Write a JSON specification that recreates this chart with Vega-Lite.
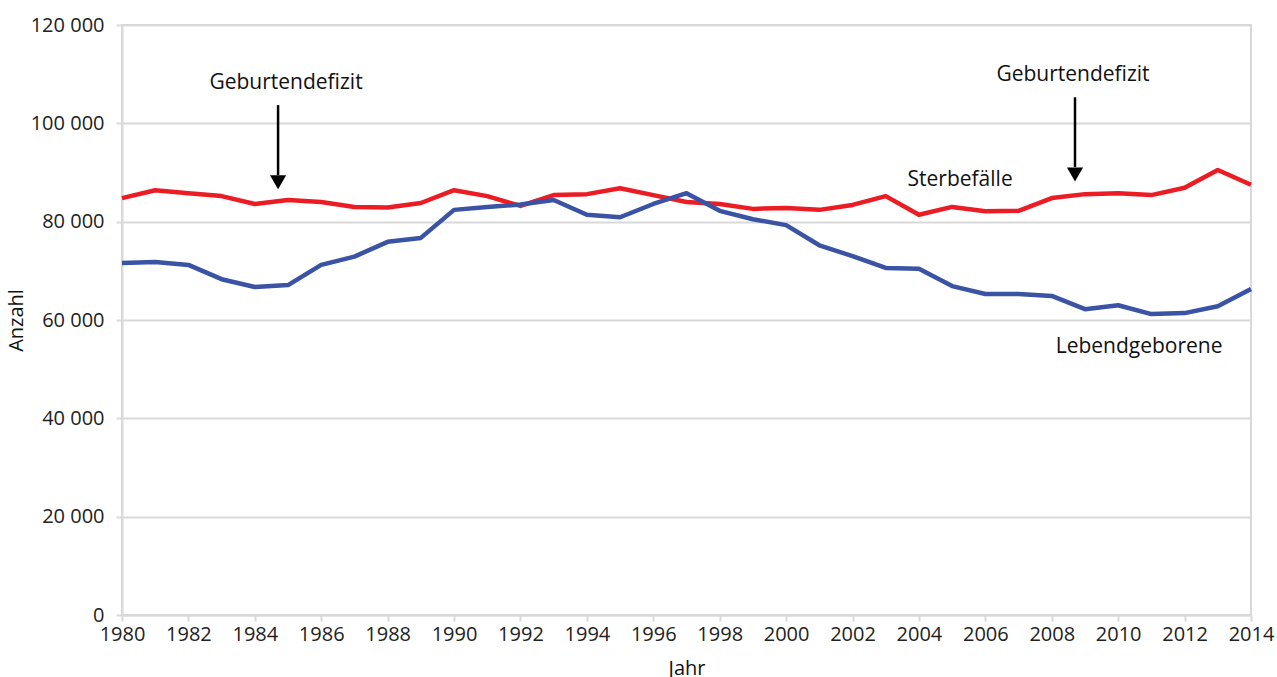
{
  "$schema": "https://vega.github.io/schema/vega-lite/v6.json",
  "width": 1129,
  "height": 590,
  "autosize": "none",
  "padding": {"left": 122, "top": 25, "right": 26, "bottom": 62},
  "background": "white",
  "config": {
    "font": "Open Sans",
    "view": {"stroke": "#d9d9d9", "strokeWidth": 2},
    "axis": {
      "labelFont": "Open Sans", "labelFontSize": 20, "labelColor": "#222222",
      "titleFont": "Open Sans", "titleFontSize": 20, "titleFontWeight": "normal", "titleColor": "#111111",
      "domainColor": "#d9d9d9", "domainWidth": 2, "tickColor": "#d9d9d9", "tickWidth": 2,
      "gridColor": "#d9d9d9", "gridWidth": 2
    }
  },
  "datasets": {
    "reihen": [
      {"Jahr": 1980, "Reihe": "Sterbefälle", "Anzahl": 84800},
      {"Jahr": 1981, "Reihe": "Sterbefälle", "Anzahl": 86400},
      {"Jahr": 1982, "Reihe": "Sterbefälle", "Anzahl": 85800},
      {"Jahr": 1983, "Reihe": "Sterbefälle", "Anzahl": 85200},
      {"Jahr": 1984, "Reihe": "Sterbefälle", "Anzahl": 83600},
      {"Jahr": 1985, "Reihe": "Sterbefälle", "Anzahl": 84400},
      {"Jahr": 1986, "Reihe": "Sterbefälle", "Anzahl": 84000},
      {"Jahr": 1987, "Reihe": "Sterbefälle", "Anzahl": 83000},
      {"Jahr": 1988, "Reihe": "Sterbefälle", "Anzahl": 82900},
      {"Jahr": 1989, "Reihe": "Sterbefälle", "Anzahl": 83800},
      {"Jahr": 1990, "Reihe": "Sterbefälle", "Anzahl": 86400},
      {"Jahr": 1991, "Reihe": "Sterbefälle", "Anzahl": 85200},
      {"Jahr": 1992, "Reihe": "Sterbefälle", "Anzahl": 83200},
      {"Jahr": 1993, "Reihe": "Sterbefälle", "Anzahl": 85400},
      {"Jahr": 1994, "Reihe": "Sterbefälle", "Anzahl": 85600},
      {"Jahr": 1995, "Reihe": "Sterbefälle", "Anzahl": 86800},
      {"Jahr": 1996, "Reihe": "Sterbefälle", "Anzahl": 85400},
      {"Jahr": 1997, "Reihe": "Sterbefälle", "Anzahl": 84000},
      {"Jahr": 1998, "Reihe": "Sterbefälle", "Anzahl": 83600},
      {"Jahr": 1999, "Reihe": "Sterbefälle", "Anzahl": 82600},
      {"Jahr": 2000, "Reihe": "Sterbefälle", "Anzahl": 82800},
      {"Jahr": 2001, "Reihe": "Sterbefälle", "Anzahl": 82400},
      {"Jahr": 2002, "Reihe": "Sterbefälle", "Anzahl": 83400},
      {"Jahr": 2003, "Reihe": "Sterbefälle", "Anzahl": 85200},
      {"Jahr": 2004, "Reihe": "Sterbefälle", "Anzahl": 81400},
      {"Jahr": 2005, "Reihe": "Sterbefälle", "Anzahl": 83000},
      {"Jahr": 2006, "Reihe": "Sterbefälle", "Anzahl": 82100},
      {"Jahr": 2007, "Reihe": "Sterbefälle", "Anzahl": 82200},
      {"Jahr": 2008, "Reihe": "Sterbefälle", "Anzahl": 84800},
      {"Jahr": 2009, "Reihe": "Sterbefälle", "Anzahl": 85600},
      {"Jahr": 2010, "Reihe": "Sterbefälle", "Anzahl": 85800},
      {"Jahr": 2011, "Reihe": "Sterbefälle", "Anzahl": 85400},
      {"Jahr": 2012, "Reihe": "Sterbefälle", "Anzahl": 86900},
      {"Jahr": 2013, "Reihe": "Sterbefälle", "Anzahl": 90500},
      {"Jahr": 2014, "Reihe": "Sterbefälle", "Anzahl": 87500},
      {"Jahr": 1980, "Reihe": "Lebendgeborene", "Anzahl": 71600},
      {"Jahr": 1981, "Reihe": "Lebendgeborene", "Anzahl": 71800},
      {"Jahr": 1982, "Reihe": "Lebendgeborene", "Anzahl": 71200},
      {"Jahr": 1983, "Reihe": "Lebendgeborene", "Anzahl": 68300},
      {"Jahr": 1984, "Reihe": "Lebendgeborene", "Anzahl": 66700},
      {"Jahr": 1985, "Reihe": "Lebendgeborene", "Anzahl": 67100},
      {"Jahr": 1986, "Reihe": "Lebendgeborene", "Anzahl": 71200},
      {"Jahr": 1987, "Reihe": "Lebendgeborene", "Anzahl": 72900},
      {"Jahr": 1988, "Reihe": "Lebendgeborene", "Anzahl": 75900},
      {"Jahr": 1989, "Reihe": "Lebendgeborene", "Anzahl": 76700},
      {"Jahr": 1990, "Reihe": "Lebendgeborene", "Anzahl": 82400},
      {"Jahr": 1991, "Reihe": "Lebendgeborene", "Anzahl": 83000},
      {"Jahr": 1992, "Reihe": "Lebendgeborene", "Anzahl": 83500},
      {"Jahr": 1993, "Reihe": "Lebendgeborene", "Anzahl": 84400},
      {"Jahr": 1994, "Reihe": "Lebendgeborene", "Anzahl": 81400},
      {"Jahr": 1995, "Reihe": "Lebendgeborene", "Anzahl": 80900},
      {"Jahr": 1996, "Reihe": "Lebendgeborene", "Anzahl": 83600},
      {"Jahr": 1997, "Reihe": "Lebendgeborene", "Anzahl": 85800},
      {"Jahr": 1998, "Reihe": "Lebendgeborene", "Anzahl": 82200},
      {"Jahr": 1999, "Reihe": "Lebendgeborene", "Anzahl": 80500},
      {"Jahr": 2000, "Reihe": "Lebendgeborene", "Anzahl": 79300},
      {"Jahr": 2001, "Reihe": "Lebendgeborene", "Anzahl": 75200},
      {"Jahr": 2002, "Reihe": "Lebendgeborene", "Anzahl": 73000},
      {"Jahr": 2003, "Reihe": "Lebendgeborene", "Anzahl": 70600},
      {"Jahr": 2004, "Reihe": "Lebendgeborene", "Anzahl": 70400},
      {"Jahr": 2005, "Reihe": "Lebendgeborene", "Anzahl": 66900},
      {"Jahr": 2006, "Reihe": "Lebendgeborene", "Anzahl": 65300},
      {"Jahr": 2007, "Reihe": "Lebendgeborene", "Anzahl": 65300},
      {"Jahr": 2008, "Reihe": "Lebendgeborene", "Anzahl": 64900},
      {"Jahr": 2009, "Reihe": "Lebendgeborene", "Anzahl": 62200},
      {"Jahr": 2010, "Reihe": "Lebendgeborene", "Anzahl": 63000},
      {"Jahr": 2011, "Reihe": "Lebendgeborene", "Anzahl": 61200},
      {"Jahr": 2012, "Reihe": "Lebendgeborene", "Anzahl": 61400},
      {"Jahr": 2013, "Reihe": "Lebendgeborene", "Anzahl": 62800},
      {"Jahr": 2014, "Reihe": "Lebendgeborene", "Anzahl": 66300}
    ],
    "texte": [
      {"Jahr": 1984.94, "Anzahl": 108200, "label": "Geburtendefizit"},
      {"Jahr": 2008.64, "Anzahl": 109800, "label": "Geburtendefizit"},
      {"Jahr": 2005.24, "Anzahl": 88500, "label": "Sterbefälle"},
      {"Jahr": 2010.63, "Anzahl": 54500, "label": "Lebendgeborene"}
    ],
    "pfeile": [
      {"Jahr": 1984.7, "oben": 103700, "unten": 89500, "spitze": 88000},
      {"Jahr": 2008.7, "oben": 105300, "unten": 91100, "spitze": 89600}
    ]
  },
  "layer": [
    {
      "data": {"name": "reihen"},
      "mark": {"type": "line", "strokeWidth": 4.5, "strokeJoin": "round"},
      "encoding": {
        "x": {
          "field": "Jahr", "type": "quantitative", "title": "Jahr",
          "scale": {"domain": [1980, 2014], "nice": false, "zero": false},
          "axis": {
            "values": [1980,1981,1982,1983,1984,1985,1986,1987,1988,1989,1990,1991,1992,1993,1994,1995,1996,1997,1998,1999,2000,2001,2002,2003,2004,2005,2006,2007,2008,2009,2010,2011,2012,2013,2014],
            "labelExpr": "datum.value % 2 == 0 ? toString(datum.value) : ''",
            "grid": false, "tickSize": 6, "labelPadding": 3, "labelFlush": false, "labelOverlap": false,
            "titlePadding": 14
          }
        },
        "y": {
          "field": "Anzahl", "type": "quantitative", "title": "Anzahl",
          "scale": {"domain": [0, 120000], "nice": false},
          "axis": {
            "values": [0, 20000, 40000, 60000, 80000, 100000, 120000],
            "labelExpr": "replace(format(datum.value, ',d'), ',', ' ')",
            "tickSize": 6, "labelPadding": 12, "titlePadding": 4
          }
        },
        "color": {
          "field": "Reihe", "type": "nominal",
          "scale": {"domain": ["Sterbefälle", "Lebendgeborene"], "range": ["#ec1c24", "#3a53a4"]},
          "legend": null
        },
        "detail": {"field": "Reihe"}
      }
    },
    {
      "data": {"name": "pfeile"},
      "mark": {"type": "rule", "strokeWidth": 2.5, "color": "black"},
      "encoding": {
        "x": {"field": "Jahr", "type": "quantitative"},
        "y": {"field": "oben", "type": "quantitative"},
        "y2": {"field": "unten"}
      }
    },
    {
      "data": {"name": "pfeile"},
      "mark": {"type": "point", "shape": "triangle-down", "filled": true, "color": "black", "opacity": 1, "size": 260},
      "encoding": {
        "x": {"field": "Jahr", "type": "quantitative"},
        "y": {"field": "spitze", "type": "quantitative"}
      }
    },
    {
      "data": {"name": "texte"},
      "mark": {"type": "text", "font": "Open Sans", "fontSize": 21, "color": "#111111", "align": "center", "baseline": "middle"},
      "encoding": {
        "x": {"field": "Jahr", "type": "quantitative"},
        "y": {"field": "Anzahl", "type": "quantitative"},
        "text": {"field": "label"}
      }
    }
  ]
}
